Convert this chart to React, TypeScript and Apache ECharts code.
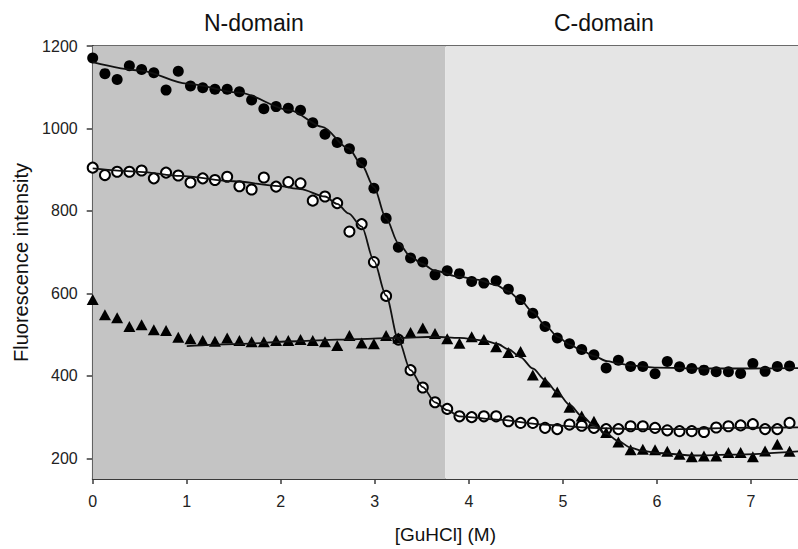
import React, { useEffect, useRef } from "react";
import * as echarts from "echarts";

// GuHCl concentrations (M) of the measured points
const guhcl = [
  0.0, 0.13, 0.26, 0.39, 0.52, 0.65, 0.78, 0.91, 1.04, 1.17, 1.3, 1.43, 1.56, 1.69, 1.82, 1.95, 2.08, 2.21,
  2.34, 2.47, 2.6, 2.73, 2.86, 2.99, 3.12, 3.25, 3.38, 3.51, 3.64, 3.77, 3.9, 4.03, 4.16, 4.29, 4.42, 4.55,
  4.68, 4.81, 4.94, 5.07, 5.2, 5.33, 5.46, 5.59, 5.72, 5.85, 5.98, 6.11, 6.24, 6.37, 6.5, 6.63, 6.76, 6.89,
  7.02, 7.15, 7.28, 7.41,
];

const filledCircles = [
  1171, 1133, 1119, 1152, 1143, 1135, 1093, 1139, 1103, 1099, 1095, 1095, 1089, 1069, 1048, 1053, 1049, 1044,
  1014, 986, 966, 951, 917, 855, 782, 712, 686, 676, 645, 655,
  648, 629, 625, 631, 610, 585, 552, 520, 492, 478, 464, 451,
  419, 438, 423, 423, 405, 435, 422, 418, 414, 410, 410, 406, 430, 411, 423, 424,
];

const openCircles = [
  905, 887, 895, 895, 898, 879, 893, 886, 869, 879, 875, 883, 860, 852, 881, 859, 870, 867,
  825, 835, 819, 750, 768, 676, 594, 488, 414, 372,
  336, 320, 302, 300, 302, 302, 290, 286, 286, 274, 271, 282, 279, 274, 271, 271, 278, 278, 274, 268, 266, 266,
  264, 275, 278, 280, 283, 271, 271, 286,
];

const triangles = [
  585, 548, 541, 520, 524, 512, 510, 494, 490, 486, 484, 492, 486, 483, 483, 486, 486, 488,
  486, 483, 474, 498, 480, 478, 498, 492, 505, 516, 503, 490, 479, 495, 488, 471, 457, 459,
  402, 385, 361, 324, 303, 290, 263, 240, 221, 222, 221, 217, 210, 204, 206, 206, 214, 214, 204, 218, 234, 217,
];

// Fitted curves
const fitFilledX = [0, 0.5, 1.0, 1.56, 2.1, 2.44, 2.72, 2.86, 2.99, 3.12, 3.25, 3.38, 3.5, 3.64, 3.9, 4.1, 4.29, 4.42, 4.55, 4.68, 4.82, 4.95, 5.07, 5.2, 5.33, 5.47, 5.6, 5.73, 6.0, 6.5, 7.0, 7.5];
const fitFilledY = [1161, 1141, 1109, 1087, 1044, 1004, 952, 912, 858, 782, 722, 690, 672, 655, 640, 633, 620, 605, 583, 555, 520, 494, 476, 462, 448, 436, 430, 425, 420, 418, 418, 419];

const fitOpenX = [0, 0.5, 0.93, 1.5, 1.98, 2.21, 2.47, 2.6, 2.72, 2.86, 2.99, 3.12, 3.25, 3.38, 3.51, 3.64, 3.77, 3.9, 4.3, 4.8, 5.3, 5.8, 6.3, 6.8, 7.5];
const fitOpenY = [903, 895, 885, 872, 860, 853, 835, 817, 794, 762, 679, 595, 488, 414, 373, 336, 317, 302, 294, 282, 274, 271, 271, 274, 275];

const fitTriX = [1.0, 1.5, 2.19, 2.6, 3.25, 3.64, 3.9, 4.16, 4.3, 4.42, 4.55, 4.68, 4.81, 4.94, 5.07, 5.2, 5.33, 5.46, 5.59, 5.72, 5.85, 6.0, 6.4, 6.8, 7.5];
const fitTriY = [472, 477, 484, 488, 492, 495, 492, 486, 478, 465, 445, 418, 390, 360, 330, 303, 280, 260, 242, 226, 218, 213, 207, 209, 217];

const xTicks = [0, 1, 2, 3, 4, 5, 6, 7];
const yTicks = [200, 400, 600, 800, 1000, 1200];
const domainSplit = 3.75;
const xMax = 7.5;
const domainLabels = ["N-domain", "C-domain"];

const FONT = "'Liberation Sans', Arial, Helvetica, sans-serif";

export default function App() {
  const ref = useRef<HTMLDivElement>(null);

  useEffect(() => {
    if (!ref.current) return;
    const chart = echarts.init(ref.current, null, { renderer: "svg" });
    const zip = (xs: number[], ys: number[]) => xs.map((x, i) => [x, ys[i]]);

    chart.setOption({
      animation: false,
      backgroundColor: "#ffffff",
      grid: {
        left: 92.7,
        right: -4.2,
        top: 46,
        bottom: 62.3,
        show: true,
        borderColor: "#3a3a3a",
        borderWidth: 1.5,
        backgroundColor: "transparent",
      },
      graphic: [
        {
          type: "text",
          left: 204,
          top: 11,
          style: { text: domainLabels[0], font: `23px ${FONT}`, fill: "#111" },
        },
        {
          type: "text",
          left: 554,
          top: 11,
          style: { text: domainLabels[1], font: `23px ${FONT}`, fill: "#111" },
        },
      ],
      xAxis: {
        type: "value",
        min: 0,
        max: xMax,
        interval: 1,
        name: "[GuHCl] (M)",
        nameLocation: "middle",
        nameGap: 46,
        nameTextStyle: { fontFamily: FONT, fontSize: 19, color: "#111" },
        axisLine: { show: true, lineStyle: { color: "#3a3a3a", width: 1.8 } },
        axisTick: { show: true, length: 5, customValues: xTicks, lineStyle: { color: "#3a3a3a", width: 1.5 } },
        axisLabel: { customValues: xTicks, fontFamily: FONT, fontSize: 16, color: "#222", margin: 14 },
        splitLine: { show: false },
      },
      yAxis: {
        type: "value",
        min: 150,
        max: 1200,
        name: "Fluorescence intensity",
        nameLocation: "middle",
        nameGap: 62,
        nameTextStyle: { fontFamily: FONT, fontSize: 20, color: "#111" },
        axisLine: { show: true, lineStyle: { color: "#3a3a3a", width: 1.8 } },
        axisTick: { show: true, length: 6, customValues: yTicks, lineStyle: { color: "#3a3a3a", width: 1.5 } },
        axisLabel: {
          customValues: yTicks,
          formatter: (v: number) => String(v),
          fontFamily: FONT,
          fontSize: 16,
          color: "#222",
          margin: 15,
        },
        splitLine: { show: false },
      },
      series: [
        {
          type: "line",
          data: [],
          silent: true,
          z: 1,
          markArea: {
            silent: true,
            data: [
              [{ xAxis: 0, itemStyle: { color: "#c4c4c4" } }, { xAxis: domainSplit }],
              [{ xAxis: domainSplit, itemStyle: { color: "#e5e5e5" } }, { xAxis: xMax }],
            ],
          },
        },
        {
          type: "scatter",
          name: "filled",
          z: 3,
          symbol: "circle",
          symbolSize: 11,
          itemStyle: { color: "#000", opacity: 1 },
          data: zip(guhcl, filledCircles),
        },
        {
          type: "scatter",
          name: "open",
          z: 3,
          symbol: "circle",
          symbolSize: 10,
          itemStyle: { color: "#fff", borderColor: "#000", borderWidth: 2, opacity: 1 },
          data: zip(guhcl, openCircles),
        },
        {
          type: "scatter",
          name: "triangle",
          z: 3,
          symbol: "triangle",
          symbolSize: [12, 11],
          itemStyle: { color: "#000", opacity: 1 },
          data: zip(guhcl, triangles),
        },
        {
          type: "line",
          z: 4,
          smooth: 0.3,
          smoothMonotone: "x",
          showSymbol: false,
          symbol: "none",
          lineStyle: { color: "#111", width: 1.8 },
          data: zip(fitFilledX, fitFilledY),
        },
        {
          type: "line",
          z: 4,
          smooth: 0.3,
          smoothMonotone: "x",
          showSymbol: false,
          symbol: "none",
          lineStyle: { color: "#111", width: 1.8 },
          data: zip(fitOpenX, fitOpenY),
        },
        {
          type: "line",
          z: 4,
          smooth: 0.3,
          smoothMonotone: "x",
          showSymbol: false,
          symbol: "none",
          lineStyle: { color: "#111", width: 1.8 },
          data: zip(fitTriX, fitTriY),
        },
      ],
    });

    return () => chart.dispose();
  }, []);

  return (
    <div
      ref={ref}
      style={{ position: "absolute", left: 0, top: 0, width: 798, height: 549, background: "#fff" }}
    />
  );
}
